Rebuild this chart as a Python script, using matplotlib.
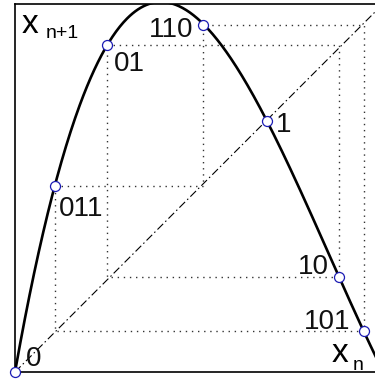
import matplotlib
matplotlib.use("Agg")
import matplotlib.pyplot as plt
import numpy as np

# Mapa unimodal (cubica): x_{n+1} = c1*x + c2*x^2 + c3*x^3
coefs = [5.64, -9.066, 3.473]

# Puntos periodicos
etiquetas = ['0', '011', '01', '110', '1', '10', '101']
xs = [0.0, 0.111, 0.256, 0.522, 0.700, 0.900, 0.969]
ys = [0.0, 0.517, 0.908, 0.964, 0.697, 0.264, 0.114]

# Orbitas (indices de los puntos) para las lineas punteadas
orbita2 = [2, 5]
orbita3 = [1, 3, 6]

W, H = 375, 379
fig = plt.figure(figsize=(W / 100, H / 100), dpi=100)
plt.rcParams['font.family'] = ['Liberation Sans', 'DejaVu Sans']

# ejes: 0 en px 15 (x) y px 372 (y), 1 unidad = 360 px
izq, der, arr, aba = 15, 377, 4, 372
ax = fig.add_axes([izq / W, 1 - aba / H, (der - izq) / W, (aba - arr) / H])
ax.set_xlim(0, (der - izq) / 360)
ax.set_ylim(0, (aba - arr) / 360)
ax.set_xticks([])
ax.set_yticks([])
for s in ax.spines.values():
    s.set_linewidth(1.2)
ax.spines['right'].set_visible(False)

# la curva
x = np.linspace(0, 1.01, 400)
y = coefs[0] * x + coefs[1] * x**2 + coefs[2] * x**3
ax.plot(x, y, color='black', lw=1.9, zorder=3)

# diagonal
ax.plot([0, 1.01], [0, 1.01], color='black', lw=0.8,
        linestyle=(0, (7.2, 2.7, 1.35, 2.7)), zorder=2)

# lineas punteadas de las orbitas
for orb in [orbita2, orbita3]:
    px, py = [], []
    for k in range(len(orb)):
        a = orb[k]
        b = orb[(k + 1) % len(orb)]
        px += [xs[a], xs[b]]
        py += [ys[a], ys[a]]
    px.append(px[0])
    py.append(py[0])
    ax.plot(px, py, color='#333333', lw=1.0, linestyle=(0, (1, 3.4)), zorder=1)

# puntos
ax.plot(xs, ys, 'o', ms=7.2, mfc='white', mec='#1c1cb4', mew=0.9,
        zorder=5, clip_on=False)

# etiquetas (desplazamientos en pixeles)
desp = {'0': (11, 6, 'left'), '011': (4, -30, 'left'), '01': (7, -26, 'left'),
        '110': (-10, -12, 'right'), '1': (9, -11, 'left'),
        '10': (-10, 3, 'right'), '101': (-13, 2, 'right')}
for et, xi, yi in zip(etiquetas, xs, ys):
    dx, dy, ha = desp[et]
    ax.annotate(et, (xi, yi), xytext=(dx, dy), textcoords='offset pixels',
                ha=ha, va='baseline', fontsize=20, color='#111111', zorder=6)

# nombres de los ejes
fig.text(22 / W, 1 - 33 / H, 'x', fontsize=24, va='baseline', ha='left')
fig.text(46 / W, 1 - 38 / H, 'n+1', fontsize=14, va='baseline', ha='left')
fig.text(332 / W, 1 - 362 / H, 'x', fontsize=24, va='baseline', ha='left')
fig.text(353 / W, 1 - 370 / H, 'n', fontsize=14, va='baseline', ha='left')

fig.savefig('out.png', dpi=100)
